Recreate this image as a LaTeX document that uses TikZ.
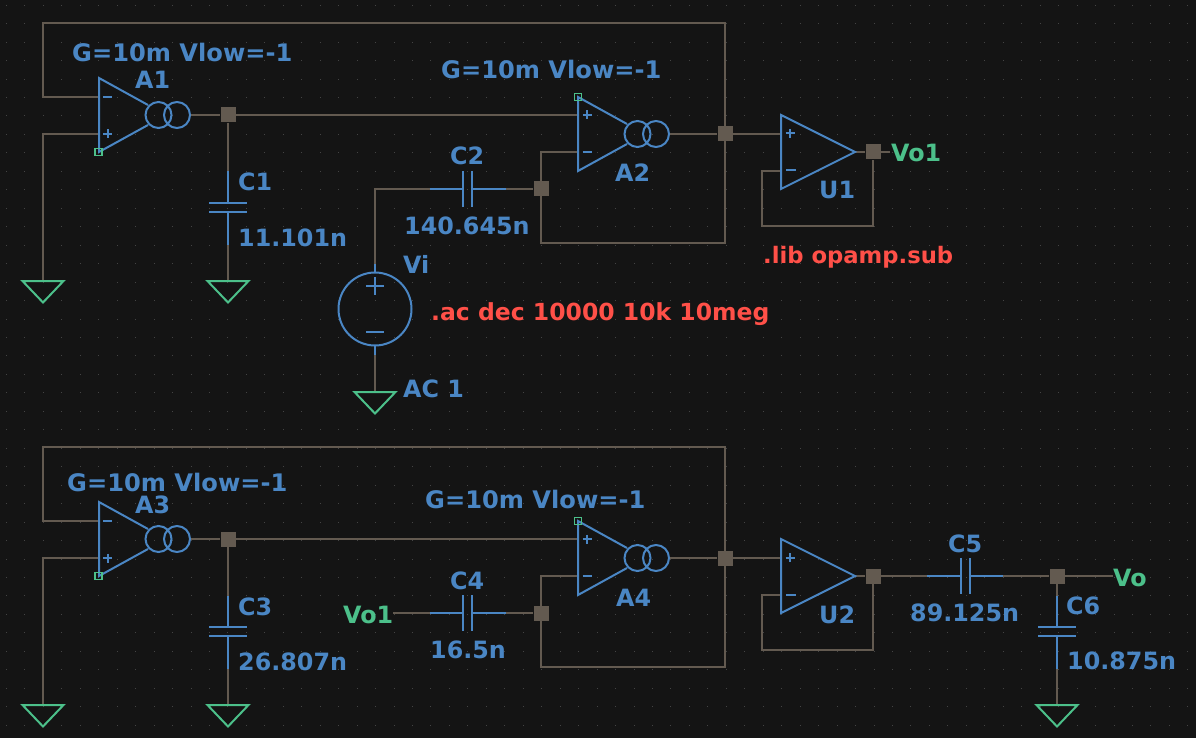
\documentclass[tikz,border=0pt]{standalone}
\usepackage{fontspec}
\setmainfont{DejaVu Sans}[BoldFont={DejaVu Sans Bold}]
\definecolor{bgc}{HTML}{141414}
\definecolor{wirec}{HTML}{635A50}
\definecolor{symc}{HTML}{4A86C4}
\definecolor{netc}{HTML}{4CC08A}
\definecolor{dirc}{HTML}{FF5048}
\definecolor{dotc}{HTML}{444444}
\tikzset{
  wire/.style={draw=wirec,line width=2pt,line join=miter},
  sym/.style={draw=symc,line width=2pt,line join=miter},
  junc/.style={rectangle,fill=wirec,draw=none,minimum size=15pt,inner sep=0pt},
  lab/.style={text=symc,font=\fontsize{23.8pt}{26pt}\selectfont\bfseries,inner sep=0pt,anchor=base west},
  parlab/.style={lab,font=\fontsize{24.15pt}{26pt}\selectfont\bfseries},
  netlab/.style={lab,text=netc},
  dirlab/.style={lab,text=dirc,font=\fontsize{23.5pt}{26pt}\selectfont\bfseries},
  libtext/.style={dirlab,font=\fontsize{22.7pt}{26pt}\selectfont\bfseries},
  gndsym/.pic={\draw[netc,line width=2pt,line join=miter] (-20.5,0)--(20.5,0)--(0,21.5)--cycle;},
  ampbody/.pic={\draw[sym] (49,-10)--(0,-37)--(0,37)--(49,10);
    \draw[sym] (59.5,0) circle (13) (78,0) circle (13);},
  markp/.pic={\draw[sym] (-4.5,0)--(4.5,0) (0,-4.5)--(0,4.5);},
  markm/.pic={\draw[sym] (-4.5,0)--(4.5,0);},
  pinbox/.pic={\draw[netc,line width=1.6pt] (-3.5,-3.5) rectangle (3.5,3.5);},
  opbody/.pic={\draw[sym] (0,-37)--(74,0)--(0,37)--cycle;
    \draw[sym] (4.5,-18.5)--(13.5,-18.5) (9,-23)--(9,-14);
    \draw[sym] (5,18.5)--(15,18.5);},
  capv/.pic={\draw[sym] (0,-36)--(0,-4.5) (-19,-4.5)--(19,-4.5) (-19,4.5)--(19,4.5) (0,4.5)--(0,37);},
  caph/.pic={\draw[sym] (-38,0)--(-4.5,0) (-4.5,-18)--(-4.5,18) (4.5,-18)--(4.5,18) (4.5,0)--(38,0);},
}
\begin{document}
\begin{tikzpicture}[x=1pt,y=-1pt]
\fill[bgc] (0,0) rectangle (1196,738);
\useasboundingbox (0,0) rectangle (1196,738);
\foreach \i in {0,...,64}{\foreach \j in {0,...,39}{\fill[dotc] ({6.4+\i*18.46-0.5},{5.2+\j*18.46-0.5}) rectangle ++(1,1);}}
% --- named connection points of the two stages
\foreach \nm/\dy in {T/0,B/424}{
  \begin{scope}[yshift=-\dy pt]
  \coordinate (\nm a) at (99,97);
  \coordinate (\nm b) at (99,134);
  \coordinate (\nm c) at (190.5,115);
  \coordinate (\nm d) at (578,115);
  \coordinate (\nm e) at (578,152);
  \coordinate (\nm f) at (670,134);
  \coordinate (\nm g) at (781,134);
  \coordinate (\nm h) at (781,171);
  \coordinate (\nm i) at (855,152);
  \coordinate (\nm tl) at (43,23);
  \coordinate (\nm tm) at (43,97);
  \coordinate (\nm tr) at (725,23);
  \coordinate (\nm lg) at (43,134);
  \coordinate (\nm gl) at (43,281);
  \coordinate (\nm gc) at (228,281);
  \coordinate (\nm cu) at (228,175);
  \coordinate (\nm cd) at (228,241);
  \coordinate (\nm rb) at (725,243);
  \coordinate (\nm lb) at (541,243);
  \coordinate (\nm le) at (541,152);
  \coordinate (\nm fa) at (762,171);
  \coordinate (\nm fb) at (762,226);
  \coordinate (\nm fc) at (873,226);
  \coordinate (\nm cl) at (433,189);
  \coordinate (\nm cr) at (502,189);
  \node[junc] (\nm j1) at (228,115) {};
  \node[junc] (\nm j2) at (725,134) {};
  \node[junc] (\nm j3) at (541,189) {};
  \node[junc] (\nm j4) at (873,152) {};
  \end{scope}
}
% extra named points
\coordinate (vsl) at (375,189);
\coordinate (vst) at (375,266);
\coordinate (vsb) at (375,353);
\coordinate (gvs) at (375,392);
\coordinate (vo1e) at (890,152);
\coordinate (vo1s) at (393,613);
\coordinate (c5l) at (931,576);
\coordinate (c5r) at (999,576);
\node[junc] (jout) at (1057,576) {};
\coordinate (voe) at (1113,576);
\coordinate (c6u) at (1057,599);
\coordinate (c6d) at (1057,665);
\coordinate (gout) at (1057,705);
% --- wires
\foreach \nm in {T,B}{
  \draw[wire] (\nm a)--(\nm tm)--(\nm tl)--(\nm tr)--(\nm rb)--(\nm lb)--(\nm le)--(\nm e);
  \draw[wire] (\nm b)--(\nm lg)--(\nm gl);
  \draw[wire] (\nm c)--(\nm j1)--(\nm d);
  \draw[wire] (\nm j1)--(\nm cu) (\nm cd)--(\nm gc);
  \draw[wire] (\nm f)--(\nm j2)--(\nm g);
  \draw[wire] (\nm h)--(\nm fa)--(\nm fb)--(\nm fc)--(\nm j4);
  \draw[wire] (\nm i)--(\nm j4);
  \draw[wire] (\nm cr)--(\nm j3);
}
\draw[wire] (Tcl)--(vsl)--(vst);
\draw[wire] (vsb)--(gvs);
\draw[wire] (Tj4)--(vo1e);
\draw[wire] (vo1s)--(Bcl);
\draw[wire] (Bj4)--(c5l) (c5r)--(jout)--(voe);
\draw[wire] (jout)--(c6u) (c6d)--(gout);
% --- symbols
\foreach \nm/\dy in {T/0,B/424}{
  \begin{scope}[yshift=-\dy pt]
  \pic at (99,115) {ampbody};
  \pic at (107.5,97) {markm};
  \pic at (107.5,134) {markp};
  \pic at (98.5,152) {pinbox};
  \pic at (578,134) {ampbody};
  \pic at (587,115) {markp};
  \pic at (587,152) {markm};
  \pic at (578,97) {pinbox};
  \pic at (781,152) {opbody};
  \pic at (228,207.5) {capv};
  \pic at (467.5,189) {caph};
  \pic at (43,281) {gndsym};
  \pic at (228,281) {gndsym};
  \end{scope}
}
\pic at (965,576) {caph};
\pic at (1057,631.5) {capv};
\pic at (1057,705) {gndsym};
\pic at (375,392) {gndsym};
% voltage source
\draw[sym] (375,309) circle (36.5);
\draw[sym] (375,264)--(375,272.5) (375,345.5)--(375,355);
\draw[sym] (366,332)--(384,332);
\draw[sym] (366,286)--(384,286) (375,277)--(375,295);
% --- labels
\node[parlab] (l1) at (72,62) {G=10m Vlow=-1};
\node[lab] (l2) at (135,89) {A1};
\node[lab] (l3) at (238,191) {C1};
\node[lab] (l4) at (238,246) {11.101n};
\node[parlab] (l5) at (441,79) {G=10m Vlow=-1};
\node[lab] (l6) at (615,182) {A2};
\node[netlab] (l7) at (891,162) {Vo1};
\node[lab] (l8) at (819,199) {U1};
\node[libtext] (l9) at (763,263) {.lib opamp.sub};
\node[lab] (l10) at (450,165) {C2};
\node[lab] (l11) at (404,234) {140.645n};
\node[lab] (l12) at (403,273) {Vi};
\node[dirlab] (l13) at (431,320) {.ac dec 10000 10k 10meg};
\node[lab] (l14) at (403,397) {AC 1};
\node[parlab] (l15) at (67,491) {G=10m Vlow=-1};
\node[lab] (l16) at (135,513) {A3};
\node[lab] (l17) at (238,615) {C3};
\node[lab] (l18) at (238,670) {26.807n};
\node[parlab] (l19) at (425,508) {G=10m Vlow=-1};
\node[lab] (l20) at (616,606) {A4};
\node[lab] (l21) at (450,589) {C4};
\node[netlab] (l22) at (343,623) {Vo1};
\node[lab] (l23) at (430,658) {16.5n};
\node[lab] (l24) at (819,623) {U2};
\node[lab] (l25) at (948,552) {C5};
\node[lab] (l26) at (910,621) {89.125n};
\node[lab] (l27) at (1066,614) {C6};
\node[lab] (l28) at (1067,669) {10.875n};
\node[netlab] (l29) at (1113,586) {Vo};
\end{tikzpicture}
\end{document}
